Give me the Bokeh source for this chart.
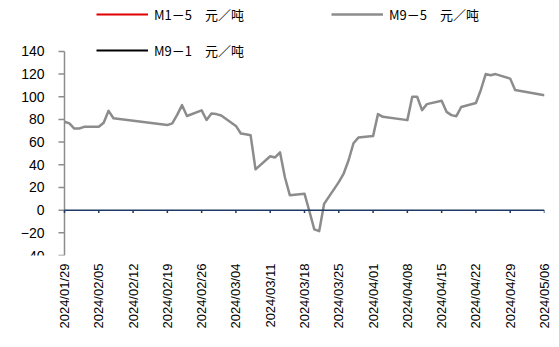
import math
import pandas as pd
from bokeh.plotting import figure
from bokeh.models import (ColumnDataSource, FixedTicker, Legend, LegendItem,
                          Range1d)
from bokeh.core.properties import value
from bokeh.embed import file_html
from bokeh.resources import INLINE

# M9-5 soybean meal spread, yuan/tonne, trading days
m95_dates = [
    "2024-01-29", "2024-01-30", "2024-01-31", "2024-02-01", "2024-02-02",
    "2024-02-05", "2024-02-06", "2024-02-07", "2024-02-08",
    "2024-02-19", "2024-02-20", "2024-02-21", "2024-02-22", "2024-02-23",
    "2024-02-26", "2024-02-27", "2024-02-28", "2024-02-29", "2024-03-01",
    "2024-03-04", "2024-03-05", "2024-03-06", "2024-03-07", "2024-03-08",
    "2024-03-11", "2024-03-12", "2024-03-13", "2024-03-14", "2024-03-15",
    "2024-03-18", "2024-03-19", "2024-03-20", "2024-03-21", "2024-03-22",
    "2024-03-25", "2024-03-26", "2024-03-27", "2024-03-28", "2024-03-29",
    "2024-04-01", "2024-04-02", "2024-04-03",
    "2024-04-08", "2024-04-09", "2024-04-10", "2024-04-11", "2024-04-12",
    "2024-04-15", "2024-04-16", "2024-04-17", "2024-04-18", "2024-04-19",
    "2024-04-22", "2024-04-23", "2024-04-24", "2024-04-25", "2024-04-26",
    "2024-04-29", "2024-04-30",
    "2024-05-06",
]
m95_values = [
    78, 76.5, 72, 72, 73.5,
    73.5, 77, 87.6, 81,
    75, 76.5, 84, 92.6, 83,
    88, 79.5, 85.3, 84.7, 83.5,
    74.3, 67.6, 67, 66, 36,
    47.5, 46.5, 51, 29, 13.2,
    14.5, -1, -17, -18.5, 5.5,
    24.7, 32.3, 44, 59, 64,
    65.3, 84.7, 82.3,
    79.4, 100, 100, 88.2, 93.5,
    96.4, 86.7, 83.8, 82.9, 91,
    94.5, 106, 120, 119, 120,
    116, 106,
    101.4,
]

# M1-5 and M9-1 spreads: no observations in this window (NaN placeholders)
m15_dates, m15_values = ["2024-01-29"], [float("nan")]
m91_dates, m91_values = ["2024-01-29"], [float("nan")]

tick_dates = [
    "2024-01-29", "2024-02-05", "2024-02-12", "2024-02-19", "2024-02-26",
    "2024-03-04", "2024-03-11", "2024-03-18", "2024-03-25", "2024-04-01",
    "2024-04-08", "2024-04-15", "2024-04-22", "2024-04-29", "2024-05-06",
]
tick_labels = [
    "2024/01/29", "2024/02/05", "2024/02/12", "2024/02/19", "2024/02/26",
    "2024/03/04", "2024/03/11", "2024/03/18", "2024/03/25", "2024/04/01",
    "2024/04/08", "2024/04/15", "2024/04/22", "2024/04/29", "2024/05/06",
]
y_ticks = [-40, -20, 0, 20, 40, 60, 80, 100, 120, 140]
y_labels = ["\u221240", "\u221220", "0", "20", "40", "60", "80", "100", "120", "140"]

series_labels = ["M1\uff0d5\u3000\u5143\uff0f\u5428",
                 "M9\uff0d5\u3000\u5143\uff0f\u5428",
                 "M9\uff0d1\u3000\u5143\uff0f\u5428"]

AX_FONT = "Liberation Sans"
CJK_FONT = "Noto Sans CJK SC"
GRAY = "#8c8c8c"
AXIS_GRAY = "#8c8c8c"
NAVY = "#1f3864"

# The frame covers the whole canvas width up to the right margin; the value
# axis is drawn by hand at the first date, 64 px in from the left edge.
PLOT_W, PLOT_H = 559, 347
RIGHT_MARGIN, BOTTOM_MARGIN = 15, 92
AXIS_X_PX = 64
Y_TOP = 184.9        # room above 140 for the legend rows
TICK_LEN = 2.6       # weekly ticks on the zero line, in y units

x_start = pd.Timestamp(tick_dates[0])
x_end = pd.Timestamp(tick_dates[-1])
span_days = (x_end - x_start).days
data_px = PLOT_W - RIGHT_MARGIN - AXIS_X_PX
pad_days = span_days * AXIS_X_PX / data_px


def to_ms(d):
    return int(pd.Timestamp(d).value // 10**6)


tick_ms = [to_ms(d) for d in tick_dates]

p = figure(width=PLOT_W, height=PLOT_H, output_backend="svg", toolbar_location=None,
           x_axis_type="datetime",
           x_range=Range1d(x_start - pd.Timedelta(days=pad_days), x_end),
           y_range=Range1d(y_ticks[0], Y_TOP),
           min_border_left=0, min_border_right=RIGHT_MARGIN,
           min_border_top=0, min_border_bottom=BOTTOM_MARGIN)
p.outline_line_color = None
p.grid.visible = False
p.background_fill_color = "white"
p.border_fill_color = "white"
p.yaxis.visible = False

r95 = p.line(x="x", y="y", line_color=GRAY, line_width=2.5, line_join="round",
             source=ColumnDataSource(dict(x=pd.to_datetime(m95_dates), y=m95_values)))
r15 = p.line(x="x", y="y", line_color="#e00000", line_width=2,
             source=ColumnDataSource(dict(x=pd.to_datetime(m15_dates), y=m15_values)))
r91 = p.line(x="x", y="y", line_color="#000000", line_width=2,
             source=ColumnDataSource(dict(x=pd.to_datetime(m91_dates), y=m91_values)))

# value axis: rule, outward ticks and labels at the first date
n_y = len(y_ticks)
p.segment(x0=[x_start], y0=[y_ticks[0]], x1=[x_start], y1=[y_ticks[-1]],
          line_color=AXIS_GRAY, line_width=1.5)
p.ray(x=[x_start] * n_y, y=y_ticks, length=6, length_units="screen",
      angle=math.pi, line_color=AXIS_GRAY, line_width=1.5)
p.text(x=[x_start] * n_y, y=y_ticks, text=y_labels, x_offset=-20,
       text_align="right", text_baseline="middle",
       text_font=value(AX_FONT), text_font_size="14px", text_color="black")

# date labels along the bottom
p.xaxis.update(
    ticker=FixedTicker(ticks=tick_ms),
    major_label_overrides=dict(zip(tick_ms, tick_labels)),
    axis_line_color=None,
    major_tick_line_color=None,
    major_tick_out=0,
    minor_tick_line_color=None,
    major_label_orientation=math.pi / 2,
    major_label_standoff=8,
    major_label_text_font=AX_FONT,
    major_label_text_font_size="13px",
    major_label_text_color="black",
)

# zero line with weekly ticks hanging below it
p.segment(x0=[x_start], y0=[0], x1=[x_end], y1=[0], line_color=NAVY, line_width=1.5)
tick_x = pd.to_datetime(tick_dates)
p.segment(x0=tick_x, y0=[0] * len(tick_x), x1=tick_x, y1=[-TICK_LEN] * len(tick_x),
          line_color=NAVY, line_width=1.5)

legend_style = dict(orientation="vertical", glyph_width=52, glyph_height=20,
                    label_height=20, spacing=16, padding=0, margin=0,
                    label_standoff=6, border_line_alpha=0,
                    background_fill_alpha=0, label_text_font=CJK_FONT,
                    label_text_font_size="13px", label_text_color="black")
leg_a = Legend(items=[LegendItem(label=series_labels[0], renderers=[r15]),
                      LegendItem(label=series_labels[2], renderers=[r91])],
               location=(96, 195), **legend_style)
leg_b = Legend(items=[LegendItem(label=series_labels[1], renderers=[r95])],
               location=(331, 231), **legend_style)
p.add_layout(leg_a, "center")
p.add_layout(leg_b, "center")

open("out.html", "w").write(file_html(p, INLINE))
